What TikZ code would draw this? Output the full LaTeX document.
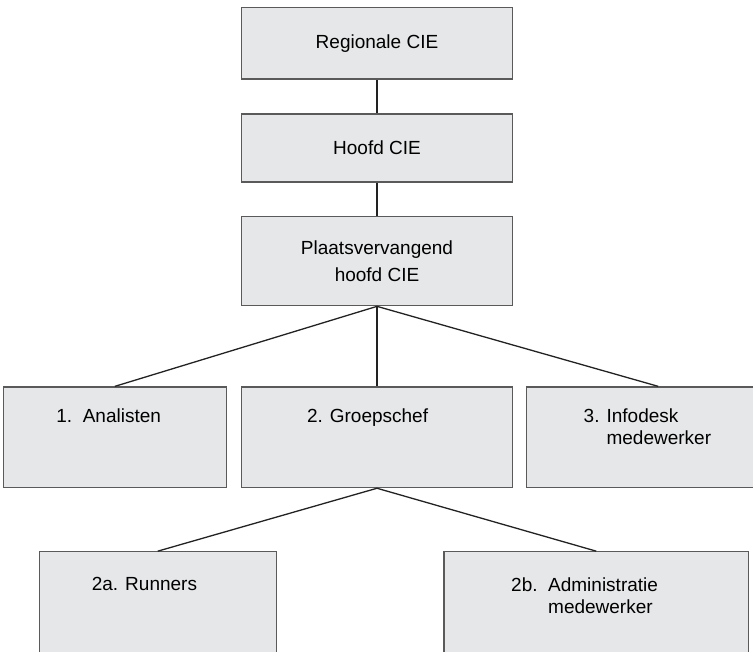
\documentclass[tikz,border=0pt]{standalone}
\usepackage{fontspec}
\setmainfont{Liberation Sans}
\usepackage{xcolor}
\usepackage{tikz}
\usetikzlibrary{positioning}

\definecolor{boxfill}{HTML}{E6E7E8}
\definecolor{boxline}{HTML}{5A5A5A}
\definecolor{linkline}{HTML}{222222}

\begin{document}
\begin{tikzpicture}[x=1pt,y=-1pt,
        box/.style={draw=boxline, fill=boxfill, line width=1.2pt, inner sep=0pt,
            font=\fontsize{19}{27.4}\selectfont, align=center},
        link/.style={draw=linkline, line width=1.3pt},
        lbl/.style={inner sep=0pt, anchor=base west, align=left,
            font=\fontsize{19}{22}\selectfont}]
        \clip (0,0) rectangle (753,652);

        % Top chain
        \node[box, minimum width=270.5pt, minimum height=71.5pt] (reg) at (377,43.3) {Regionale CIE};
        \node[box, minimum width=270.5pt, minimum height=68pt, below=33.7pt of reg] (hoofd) {Hoofd CIE};
        \node[box, minimum width=270.5pt, minimum height=89.3pt, below=33.3pt of hoofd] (plv) {Plaatsvervangend\\hoofd CIE};

        % Second row
        \node[box, minimum width=271pt, minimum height=100.7pt, below=80pt of plv] (groep) {};
        \node[box, minimum width=223pt, minimum height=100.7pt, left=13.9pt of groep] (ana) {};
        \node[box, minimum width=264pt, minimum height=100.7pt, right=12.5pt of groep] (info) {};

        % Third row
        \node[box, minimum width=236.8pt, minimum height=100.7pt] (run) at (157.8,602.1) {};
        \node[box, minimum width=304.3pt, minimum height=100.7pt] (adm) at (596.2,602.1) {};

        % Texts (base = last line)
        \node[lbl] (ana-t) at (56.2,422.3) {1.\ \ Analisten};
        \node[lbl] (groep-t) at (306.8,422.3) {2. Groepschef};
        \node[lbl] (info-t) at (583.5,444.3) {3. Infodesk\\\phantom{3. }medewerker};
        \node[lbl] (run-t) at (91.6,590.8) {2a. Runners};
        \node[lbl] (adm-t) at (511,613.3) {2b.\ \ Administratie\\\phantom{2b.\ \ }medewerker};

        % Connectors
        \draw[link] (reg.south) -- (hoofd.north);
        \draw[link] (hoofd.south) -- (plv.north);
        \foreach \n in {ana, groep, info} {
            \draw[link] (plv.south) -- (\n.north);
        }
        \draw[link] (groep.south) -- (run.north);
        \draw[link] (groep.south) -- (adm.north);
    \end{tikzpicture}
\end{document}
